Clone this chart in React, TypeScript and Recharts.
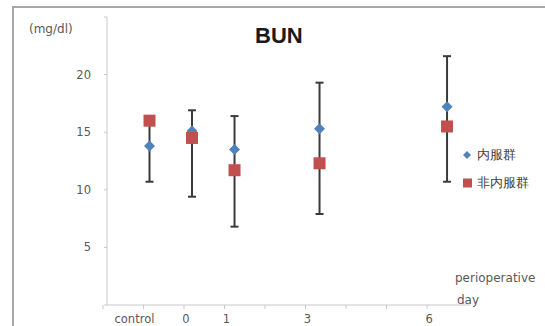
import {
  ErrorBar,
  Scatter,
  ScatterChart,
  XAxis,
  YAxis,
} from "recharts";

// x position of each sampling point (control drawn one step before day 0)
const days = [-1, 0, 1, 3, 6];
const dayLabels: Record<number, string> = { [-1]: "control", 0: "0", 1: "1", 3: "3", 6: "6" };
const axisTicks = [-2, -1, 0, 1, 2, 3, 4, 5, 6];
const yTicks = [0, 5, 10, 15, 20, 25];

const naifuku = [13.8, 15.1, 13.5, 15.3, 17.2]; // 内服群
const hiNaifuku = [16.0, 14.5, 11.7, 12.3, 15.5]; // 非内服群
const errLow = [10.7, 9.4, 6.8, 7.9, 10.7];
const errHigh = [16.0, 16.9, 16.4, 19.3, 21.6];

const blueData = days.map((x, i) => ({ x, y: naifuku[i] }));
const redData = days.map((x, i) => ({ x, y: hiNaifuku[i] }));
const errData = days.map((x, i) => ({ x, y: errLow[i], err: [0, errHigh[i] - errLow[i]] }));

const FONT = "'DejaVu Sans', 'Liberation Sans', sans-serif";
const GREY = "#595959";

const Diamond = (p: any) => {
  const { cx, cy } = p;
  const r = 5.5;
  return (
    <polygon
      points={`${cx},${cy - r} ${cx + r},${cy} ${cx},${cy + r} ${cx - r},${cy}`}
      fill="#4f81bd"
    />
  );
};

const Square = (p: any) => {
  const { cx, cy } = p;
  const s = 12;
  return <rect x={cx - s / 2} y={cy - s / 2} width={s} height={s} fill="#c0504d" />;
};

const Nothing = () => <g />;

const DayTick = (p: any) => {
  const { x, y, payload } = p;
  const label = dayLabels[payload.value] ?? "";
  const dx = payload.value === -1 ? -9 : 2;
  return (
    <text x={x + dx} y={y + 12} textAnchor="middle" fontSize={11.5} fill={GREY} fontFamily={FONT}>
      {label}
    </text>
  );
};

export default function App() {
  return (
    <div style={{ position: "absolute", left: 0, top: 0, width: 545, height: 326, background: "#fff" }}>
      <div
        style={{
          position: "absolute",
          left: 12,
          top: 6,
          width: 533,
          height: 320,
          borderLeft: "2px solid #a6a6a6",
          borderTop: "2px solid #a6a6a6",
        }}
      />
      <ScatterChart width={545} height={326} margin={{ top: 17, right: 75, bottom: 0, left: 0 }}>
        <XAxis xAxisId="d" type="number" dataKey="x" domain={[-2, 6.54]} hide height={0} allowDataOverflow />
        <XAxis
          xAxisId="l"
          type="number"
          dataKey="x"
          domain={[-1.9, 7.06]}
          ticks={axisTicks}
          allowDataOverflow
          height={21}
          tickSize={4}
          stroke="#c8c8c8"
          tick={<DayTick />}
        />
        <YAxis
          type="number"
          dataKey="y"
          domain={[0, 25]}
          ticks={yTicks}
          width={107}
          tickSize={3}
          stroke="#c8c8c8"
          tickFormatter={(v: number) => (v === 0 || v === 25 ? "" : String(v))}
          tick={{ fill: GREY, fontSize: 11.5, fontFamily: FONT }}
          tickMargin={13}
        />
        <Scatter xAxisId="l" data={[]} shape={<Nothing />} isAnimationActive={false} legendType="none" />
        <Scatter xAxisId="d" data={errData} shape={<Nothing />} isAnimationActive={false} legendType="none">
          <ErrorBar dataKey="err" direction="y" stroke="#3a3a3a" strokeWidth={2} width={4} />
        </Scatter>
        <Scatter xAxisId="d" name="内服群" data={blueData} shape={<Diamond />} isAnimationActive={false} />
        <Scatter xAxisId="d" name="非内服群" data={redData} shape={<Square />} isAnimationActive={false} />
      </ScatterChart>
      <div style={{ position: "absolute", left: 29, top: 22, fontFamily: FONT, fontSize: 12, color: GREY }}>
        (mg/dl)
      </div>
      <div
        style={{
          position: "absolute",
          left: 255,
          top: 23,
          fontFamily: "'Liberation Sans', Arial, sans-serif",
          fontSize: 22,
          fontWeight: "bold",
          color: "#1a1a1a",
        }}
      >
        BUN
      </div>
      <div style={{ position: "absolute", left: 455, top: 271, fontFamily: FONT, fontSize: 12, color: GREY }}>
        perioperative
      </div>
      <div style={{ position: "absolute", left: 457, top: 293, fontFamily: FONT, fontSize: 12, color: GREY }}>
        day
      </div>
      <div
        style={{ position: "absolute", left: 461, top: 141, fontFamily: FONT, fontSize: 13, color: "#404040", lineHeight: "28px" }}
      >
        <div style={{ display: "flex", alignItems: "center" }}>
          <svg width={14} height={12}>
            <polygon points="6,2 10,6 6,10 2,6" fill="#4f81bd" />
          </svg>
          <span style={{ marginLeft: 2 }}>内服群</span>
        </div>
        <div style={{ display: "flex", alignItems: "center" }}>
          <svg width={14} height={12}>
            <rect x={2} y={1.5} width={9} height={9} fill="#c0504d" />
          </svg>
          <span style={{ marginLeft: 2 }}>非内服群</span>
        </div>
      </div>
    </div>
  );
}
